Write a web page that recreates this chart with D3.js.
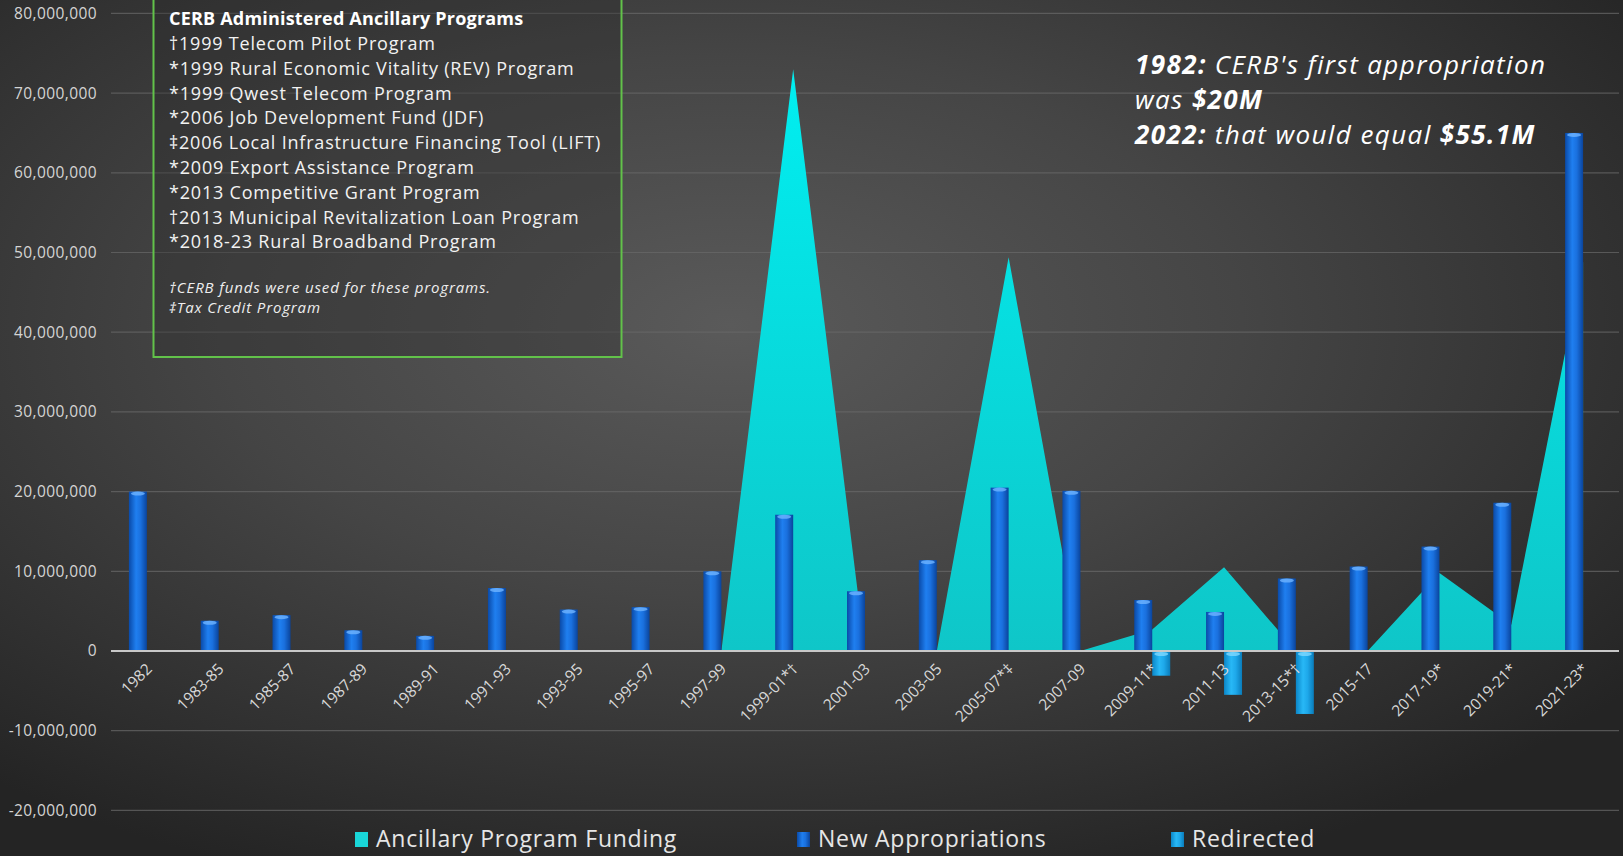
<!DOCTYPE html>
<html>
<head>
<meta charset="utf-8">
<script src="https://cdn.jsdelivr.net/npm/d3@7"></script>
<style>
    html, body { margin: 0; padding: 0; background: #2b2b2b; overflow: hidden; }
    #chart-area { width: 1623px; height: 856px; }
    text { font-family: "Open Sans", Lato, sans-serif; }
</style>
</head>
<body>
<div id="chart-area"></div>
<script>

// biennium categories (x axis)
const categories = ["1982", "1983-85", "1985-87", "1987-89", "1989-91", "1991-93", "1993-95", "1995-97",
    "1997-99", "1999-01*\u2020", "2001-03", "2003-05", "2005-07*\u2021", "2007-09", "2009-11*", "2011-13",
    "2013-15*\u2020", "2015-17", "2017-19*", "2019-21*", "2021-23*"];

// values in dollars
const ancillaryFunding = [0, 0, 0, 0, 0, 0, 0, 0, 0, 73000000, 0, 0, 49400000, 0, 2700000, 10500000,
    0, 0, 9800000, 3300000, 48800000];
const newAppropriations = [20000000, 3800000, 4500000, 2600000, 1900000, 7900000, 5200000, 5500000,
    10000000, 17100000, 7500000, 11400000, 20500000, 20100000, 6400000, 4900000, 9100000, 10600000,
    13100000, 18600000, 65000000];
const redirected = [0, 0, 0, 0, 0, 0, 0, 0, 0, 0, 0, 0, 0, 0, -3100000, -5500000, -7900000, 0, 0, 0, 0];

const yTicks = [-20000000, -10000000, 0, 10000000, 20000000, 30000000, 40000000, 50000000, 60000000, 70000000, 80000000];

const seriesNames = ["Ancillary Program Funding", "New Appropriations", "Redirected"];

const programLines = [
    "\u20201999 Telecom Pilot Program",
    "*1999 Rural Economic Vitality (REV) Program",
    "*1999 Qwest Telecom Program",
    "*2006 Job Development Fund (JDF)",
    "\u20212006 Local Infrastructure Financing Tool (LIFT)",
    "*2009 Export Assistance Program",
    "*2013 Competitive Grant Program",
    "\u20202013 Municipal Revitalization Loan Program",
    "*2018-23 Rural Broadband Program"
];
const footnotes = ["\u2020CERB funds were used for these programs.", "\u2021Tax Credit Program"];


class FundingVis {

    constructor(parentElement) {
        this.parentElement = parentElement;
        this.displayData = categories.map((c, i) => ({
            cat: c,
            ancillary: ancillaryFunding[i],
            appr: newAppropriations[i],
            redir: redirected[i]
        }));
        this.initVis();
    }

    initVis() {
        let vis = this;

        vis.width = 1623;
        vis.height = 856;

        vis.svg = d3.select("#" + vis.parentElement).append("svg")
            .attr("width", vis.width)
            .attr("height", vis.height);

        vis.defs = vis.svg.append("defs");

        // dark slide background
        let bg = vis.defs.append("radialGradient")
            .attr("id", "bgGradient")
            .attr("cx", "45%").attr("cy", "38%").attr("r", "70%");
        bg.append("stop").attr("offset", "0%").attr("stop-color", "#5a5a5a");
        bg.append("stop").attr("offset", "45%").attr("stop-color", "#454545");
        bg.append("stop").attr("offset", "100%").attr("stop-color", "#242424");

        vis.svg.append("rect")
            .attr("width", vis.width)
            .attr("height", vis.height)
            .attr("fill", "url(#bgGradient)");

        // scales
        vis.x = d3.scaleBand()
            .domain(categories)
            .range([111, 1619])
            .padding(0);

        vis.y = d3.scaleLinear()
            .domain([-20000000, 80000000])
            .range([810.4, 13.4]);

        vis.barW = 18;

        // gradients for the marks
        let areaGrad = vis.defs.append("linearGradient")
            .attr("id", "areaGradient")
            .attr("gradientUnits", "userSpaceOnUse")
            .attr("x1", 0).attr("x2", 0)
            .attr("y1", vis.y(75000000)).attr("y2", vis.y(0));
        areaGrad.append("stop").attr("offset", "0%").attr("stop-color", "#00f0f2");
        areaGrad.append("stop").attr("offset", "100%").attr("stop-color", "#0fc6c8");

        let blueGrad = vis.defs.append("linearGradient")
            .attr("id", "blueGradient")
            .attr("x1", "0%").attr("x2", "100%");
        blueGrad.append("stop").attr("offset", "0%").attr("stop-color", "#0a4aa8");
        blueGrad.append("stop").attr("offset", "40%").attr("stop-color", "#1f7ff0");
        blueGrad.append("stop").attr("offset", "65%").attr("stop-color", "#1a70de");
        blueGrad.append("stop").attr("offset", "100%").attr("stop-color", "#0a449c");

        let lightGrad = vis.defs.append("linearGradient")
            .attr("id", "lightGradient")
            .attr("x1", "0%").attr("x2", "100%");
        lightGrad.append("stop").attr("offset", "0%").attr("stop-color", "#0b86c8");
        lightGrad.append("stop").attr("offset", "40%").attr("stop-color", "#28b8f6");
        lightGrad.append("stop").attr("offset", "65%").attr("stop-color", "#1ea8ea");
        lightGrad.append("stop").attr("offset", "100%").attr("stop-color", "#0a7cba");

        // gridlines + y labels
        vis.grid = vis.svg.append("g").attr("class", "grid");
        vis.grid.selectAll("line")
            .data(yTicks.filter(d => d !== 0))
            .enter().append("line")
            .attr("x1", 111).attr("x2", 1619)
            .attr("y1", d => vis.y(d)).attr("y2", d => vis.y(d))
            .attr("stroke", "#6a6a6a")
            .attr("stroke-opacity", 0.7)
            .attr("stroke-width", 1.2);

        // plain hyphen for negatives, like the original
        let fmt = d3.format(",");
        vis.yAxis = vis.svg.append("g")
            .attr("class", "y-axis")
            .attr("transform", "translate(97,0)")
            .call(d3.axisLeft(vis.y).tickValues(yTicks).tickSize(0).tickPadding(0)
                .tickFormat(d => fmt(d).replace("\u2212", "-")));
        vis.yAxis.select(".domain").remove();
        vis.yAxis.selectAll("text")
            .attr("fill", "#d4d4d4")
            .style("font-family", "'Open Sans', sans-serif")
            .style("font-size", "15.5px")
            .style("letter-spacing", "0.4px");

        // ancillary programs box
        vis.box = vis.svg.append("g").attr("class", "program-box");
        vis.box.append("rect")
            .attr("x", 153.5).attr("y", -3)
            .attr("width", 468).attr("height", 360)
            .attr("fill", "#2c2c2c").attr("fill-opacity", 0.35)
            .attr("stroke", "#62c24a").attr("stroke-width", 2);

        vis.box.append("text")
            .attr("x", 169).attr("y", 25)
            .attr("fill", "#ffffff")
            .style("font-size", "18px").style("font-weight", "bold")
            .style("letter-spacing", "0.2px")
            .text("CERB Administered Ancillary Programs");

        vis.box.selectAll(".prog")
            .data(programLines)
            .enter().append("text")
            .attr("class", "prog")
            .attr("x", 169)
            .attr("y", (d, i) => 50 + i * 24.8)
            .attr("fill", "#f2f2f2")
            .style("font-size", "18px")
            .style("letter-spacing", "0.8px")
            .text(d => d);

        vis.box.selectAll(".foot")
            .data(footnotes)
            .enter().append("text")
            .attr("class", "foot")
            .attr("x", 169)
            .attr("y", (d, i) => 293 + i * 20)
            .attr("fill", "#eeeeee")
            .style("font-size", "15px").style("font-style", "italic")
            .style("letter-spacing", "0.85px")
            .text(d => d);

        // annotation top right
        vis.note = vis.svg.append("g").attr("class", "note")
            .style("font-size", "26px").style("font-style", "italic")
            .style("letter-spacing", "1.4px")
            .attr("fill", "#ffffff");
        let l1 = vis.note.append("text").attr("x", 1135).attr("y", 74);
        l1.append("tspan").style("font-weight", "bold").text("1982:");
        l1.append("tspan").text(" CERB's first appropriation");
        let l2 = vis.note.append("text").attr("x", 1135).attr("y", 109);
        l2.append("tspan").text("was ");
        l2.append("tspan").style("font-weight", "bold").text("$20M");
        let l3 = vis.note.append("text").attr("x", 1135).attr("y", 144);
        l3.append("tspan").style("font-weight", "bold").text("2022:");
        l3.append("tspan").text(" that would equal ");
        l3.append("tspan").style("font-weight", "bold").text("$55.1M");

        vis.marks = vis.svg.append("g").attr("class", "marks");

        // x axis labels
        vis.xLabels = vis.svg.append("g").attr("class", "x-labels");

        // legend
        vis.legend = vis.svg.append("g").attr("class", "legend");

        vis.updateVis();
    }

    updateVis() {
        let vis = this;
        let cx = d => vis.x(d.cat) + vis.x.bandwidth() / 2;

        // area series
        vis.area = d3.area()
            .x(d => cx(d))
            .y0(vis.y(0))
            .y1(d => vis.y(d.ancillary));

        vis.marks.append("path")
            .datum(vis.displayData)
            .attr("d", vis.area)
            .attr("fill", "url(#areaGradient)");

        // new appropriations bars
        let appr = vis.marks.selectAll(".appr")
            .data(vis.displayData)
            .enter().append("g")
            .attr("class", "appr");
        appr.append("rect")
            .attr("x", d => cx(d) - vis.barW)
            .attr("y", d => vis.y(d.appr))
            .attr("width", vis.barW)
            .attr("height", d => vis.y(0) - vis.y(d.appr))
            .attr("fill", "url(#blueGradient)");
        appr.append("ellipse")
            .attr("cx", d => cx(d) - vis.barW / 2)
            .attr("cy", d => vis.y(d.appr) + 2)
            .attr("rx", vis.barW / 2 - 2)
            .attr("ry", 2)
            .attr("fill", "#6fb4ff")
            .attr("fill-opacity", 0.8);

        // redirected bars (negative)
        let redir = vis.marks.selectAll(".redir")
            .data(vis.displayData.filter(d => d.redir !== 0))
            .enter().append("g")
            .attr("class", "redir");
        redir.append("rect")
            .attr("x", d => cx(d))
            .attr("y", vis.y(0))
            .attr("width", vis.barW)
            .attr("height", d => vis.y(d.redir) - vis.y(0))
            .attr("fill", "url(#lightGradient)");
        redir.append("ellipse")
            .attr("cx", d => cx(d) + vis.barW / 2)
            .attr("cy", vis.y(0) + 3)
            .attr("rx", vis.barW / 2 - 2)
            .attr("ry", 2)
            .attr("fill", "#7fd8ff")
            .attr("fill-opacity", 0.8);

        // zero line
        vis.marks.append("line")
            .attr("x1", 111).attr("x2", 1619)
            .attr("y1", vis.y(0)).attr("y2", vis.y(0))
            .attr("stroke", "#c8c8c8")
            .attr("stroke-width", 2);

        // category labels rotated 45deg
        vis.xLabels.selectAll("text")
            .data(vis.displayData)
            .enter().append("text")
            .attr("transform", d => `translate(${cx(d) + 6}, ${vis.y(0) + 19}) rotate(-45)`)
            .attr("text-anchor", "end")
            .attr("fill", "#d8d8d8")
            .style("font-size", "15.5px")
            .text(d => d.cat);

        // legend
        let legendX = [355, 797, 1171];
        let legendFill = ["#19d6d8", "url(#blueGradient)", "url(#lightGradient)"];
        let items = vis.legend.selectAll(".item")
            .data(seriesNames)
            .enter().append("g")
            .attr("class", "item")
            .attr("transform", (d, i) => `translate(${legendX[i]}, 0)`);
        items.append("rect")
            .attr("x", 0).attr("y", 832)
            .attr("width", 13).attr("height", 15)
            .attr("fill", (d, i) => legendFill[i]);
        items.append("text")
            .attr("x", 21).attr("y", 847)
            .attr("fill", "#e6e6e6")
            .style("font-size", "23px")
            .style("letter-spacing", "0.75px")
            .text(d => d);
    }
}

let fundingVis = new FundingVis("chart-area");

</script>
</body>
</html>
